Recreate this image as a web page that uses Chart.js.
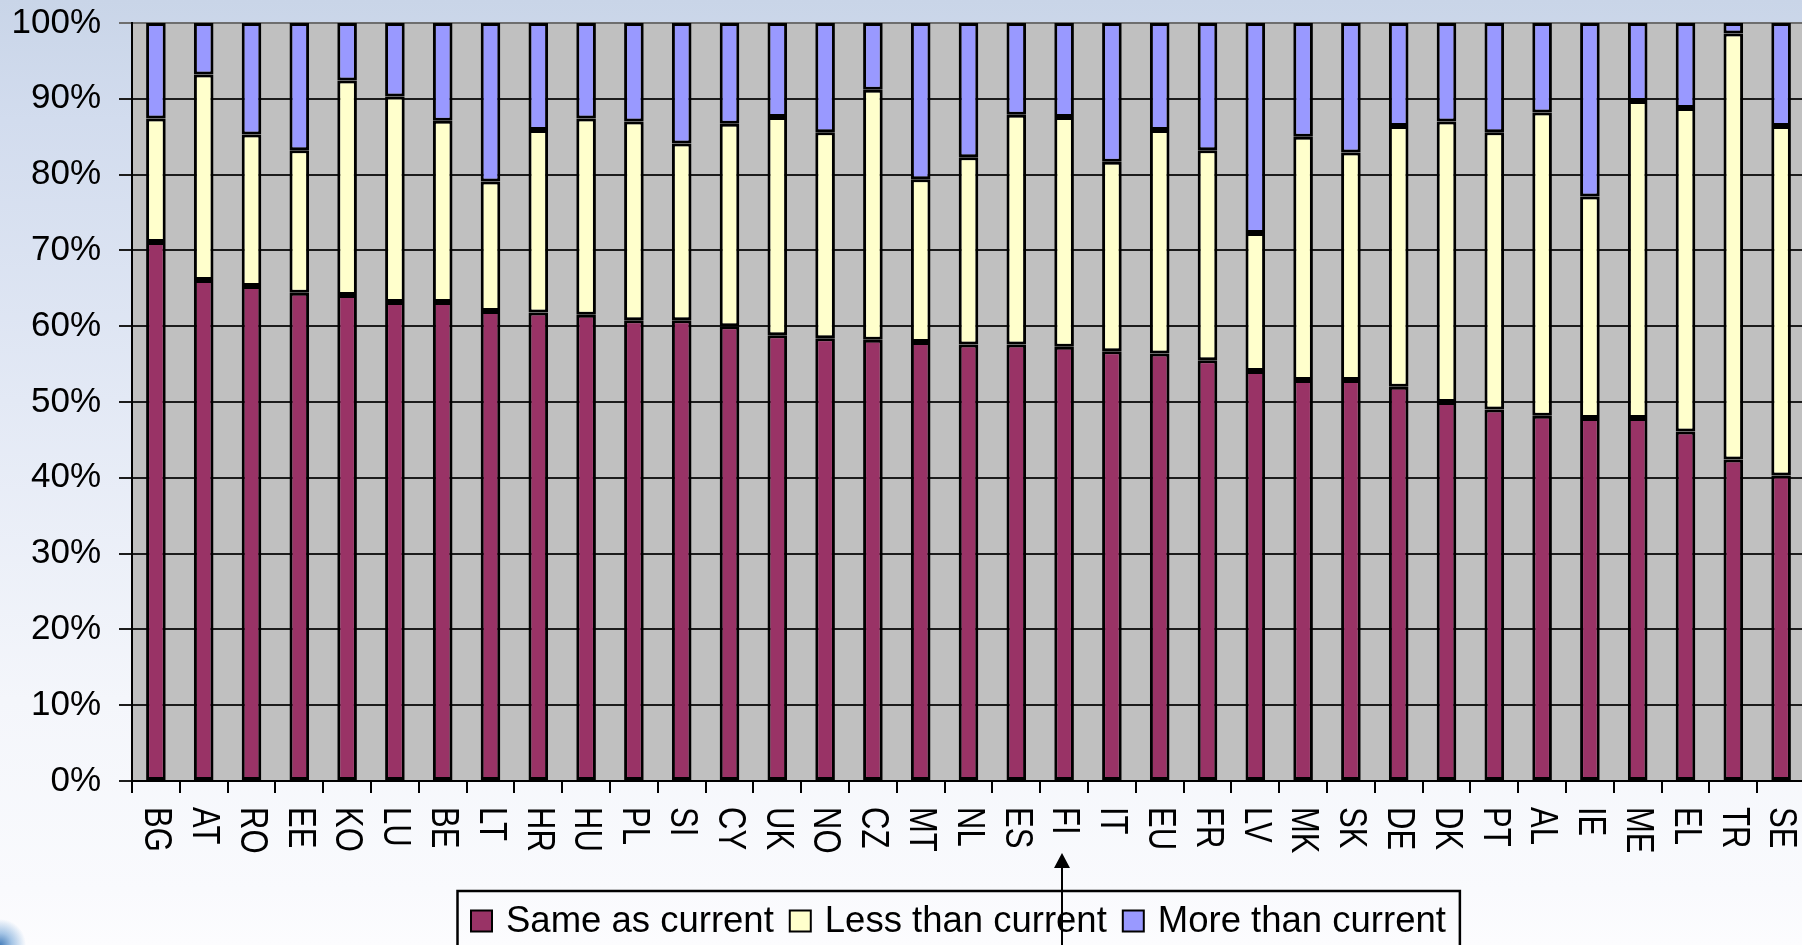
<!DOCTYPE html>
<html>
<head>
<meta charset="utf-8">
<script src="https://cdn.jsdelivr.net/npm/chart.js@4/dist/chart.umd.min.js"></script>
<style>
  html, body {
    margin: 0;
    padding: 0;
    width: 1802px;
    height: 945px;
    overflow: hidden;
    background:
      radial-gradient(circle at 0 945px, rgba(40,105,175,0.85) 0px, rgba(60,130,200,0.45) 12px, rgba(255,255,255,0) 26px),
      linear-gradient(180deg, #c9d5e8 0px, #d2dcee 120px, #e3e9f5 400px, #f4f6fb 700px, #f9fafd 890px, #fcfcfe 945px);
  }
  #wrap { position: absolute; left: 0; top: 0; width: 1830px; height: 945px; }
</style>
</head>
<body>
<div id="wrap"><canvas id="chart"></canvas></div>
<script>
// Countries, ordered by the share answering "Same as current"
const categories = ['BG','AT','RO','EE','KO','LU','BE','LT','HR','HU','PL','SI','CY','UK','NO','CZ','MT','NL','ES','FI','IT','EU','FR','LV','MK','SK','DE','DK','PT','AL','IE','ME','EL','TR','SE'];

// Shares in percent
const sameAsCurrent = [71.1,66.1,65.3,64.4,64.1,63.2,63.2,62.0,61.8,61.5,60.8,60.8,60.0,58.8,58.4,58.2,57.9,57.6,57.6,57.3,56.7,56.4,55.5,54.1,52.9,52.9,52.0,50.0,49.0,48.2,47.9,47.9,46.1,42.4,40.3];
const lessThanCurrent = [16.3,27.1,20.0,18.8,28.3,27.1,23.9,17.1,24.1,25.9,26.2,23.3,26.7,28.8,27.2,33.0,21.5,24.7,30.3,30.3,25.0,29.5,27.7,18.2,32.1,30.0,34.4,37.0,36.6,40.0,29.2,41.8,42.7,56.2,46.1];
const moreThanCurrent = [12.6,6.8,14.7,16.8,7.6,9.7,12.9,20.9,14.1,12.6,13.0,15.9,13.3,12.4,14.4,8.8,20.6,17.7,12.1,12.4,18.3,14.1,16.8,27.7,15.0,17.1,13.6,13.0,14.4,11.8,22.9,10.3,11.2,1.4,13.6];

const seriesNames = ['Same as current', 'Less than current', 'More than current'];
const yTicks = [0,10,20,30,40,50,60,70,80,90,100];
const highlighted = 'FI';

const FONT = '"Liberation Sans", Arial, Helvetica, sans-serif';
const colors = ['#993366', '#ffffcc', '#9999ff'];

// Grey plotting area behind the grid
const plotBackground = {
  id: 'plotBackground',
  beforeDraw(chart) {
    const { ctx, chartArea: a } = chart;
    ctx.save();
    ctx.fillStyle = '#c0c0c0';
    ctx.fillRect(a.left, a.top, a.right - a.left, a.bottom - a.top);
    ctx.restore();
  }
};

// Category labels written top-to-bottom under each bar
const verticalLabels = {
  id: 'verticalLabels',
  afterDraw(chart) {
    const { ctx, chartArea: a } = chart;
    const xs = chart.scales.x;
    ctx.save();
    ctx.font = '31px ' + FONT;
    ctx.fillStyle = '#000';
    ctx.textAlign = 'left';
    ctx.textBaseline = 'middle';
    chart.data.labels.forEach((lab, i) => {
      const x = xs.getPixelForValue(i);
      ctx.save();
      ctx.translate(x, a.bottom + 26);
      ctx.scale(1.25, 1);
      ctx.rotate(Math.PI / 2);
      ctx.fillText(lab, 0, 0);
      ctx.restore();
    });
    ctx.restore();
  }
};

// Boxed legend along the bottom edge, plus the pointer to the highlighted country
const boxedLegend = {
  id: 'boxedLegend',
  afterDraw(chart) {
    const { ctx, chartArea: a } = chart;
    const fontSize = 36.5;
    const sw = 21;
    const boxLeft = 457.5, boxTop = 891;
    const textGap = 14, itemGap = 16;
    ctx.save();
    ctx.font = fontSize + 'px ' + FONT;
    ctx.textBaseline = 'middle';
    ctx.textAlign = 'left';
    let x = boxLeft + 13.5;
    const cy = boxTop + 30;
    chart.data.datasets.forEach((ds) => {
      ctx.fillStyle = ds.backgroundColor;
      ctx.fillRect(x, cy - sw / 2, sw, sw);
      ctx.lineWidth = 2;
      ctx.strokeStyle = '#000';
      ctx.strokeRect(x, cy - sw / 2, sw, sw);
      x += sw + textGap;
      ctx.fillStyle = '#000';
      ctx.fillText(ds.label, x, cy + 1);
      x += ctx.measureText(ds.label).width + itemGap;
    });
    const boxRight = x - itemGap + textGap;
    ctx.lineWidth = 2.5;
    ctx.strokeStyle = '#000';
    ctx.strokeRect(boxLeft, boxTop, boxRight - boxLeft, 80);

    // Arrow pointing up at the highlighted label
    const idx = chart.data.labels.indexOf(highlighted);
    if (idx >= 0) {
      const ax = Math.round(chart.scales.x.getPixelForValue(idx)) - 2;
      const tip = a.bottom + 72;
      ctx.fillStyle = '#000';
      ctx.lineWidth = 2;
      ctx.beginPath();
      ctx.moveTo(ax, tip + 12);
      ctx.lineTo(ax, chart.height + 5);
      ctx.stroke();
      ctx.beginPath();
      ctx.moveTo(ax, tip);
      ctx.lineTo(ax - 8, tip + 15);
      ctx.lineTo(ax + 8, tip + 15);
      ctx.closePath();
      ctx.fill();
    }
    ctx.restore();
  }
};

const datasets = [sameAsCurrent, lessThanCurrent, moreThanCurrent].map((vals, k) => ({
  label: seriesNames[k],
  data: vals,
  backgroundColor: colors[k],
  borderColor: '#000',
  borderWidth: 3,
  borderSkipped: false,
  categoryPercentage: 1.0,
  barPercentage: 0.41
}));

new Chart(document.getElementById('chart'), {
  type: 'bar',
  data: { labels: categories, datasets },
  plugins: [plotBackground, verticalLabels, boxedLegend],
  options: {
    responsive: true,
    maintainAspectRatio: false,
    animation: false,
    devicePixelRatio: 1,
    layout: { padding: { left: 0, top: 23, right: 25, bottom: 0 } },
    plugins: {
      legend: { display: false },
      tooltip: { enabled: false }
    },
    scales: {
      x: {
        stacked: true,
        offset: true,
        afterFit(scale) {
          scale.height = 164;
          scale.paddingLeft = 0;
          scale.paddingRight = 0;
        },
        grid: {
          display: true,
          offset: true,
          drawOnChartArea: false,
          drawTicks: true,
          tickLength: 12,
          color: '#000',
          lineWidth: 2
        },
        border: { display: true, color: '#000', width: 2 },
        ticks: { display: false }
      },
      y: {
        stacked: true,
        min: 0,
        max: 100,
        afterFit(scale) {
          scale.width = 132;
          scale.paddingTop = 0;
          scale.paddingBottom = 0;
        },
        afterBuildTicks(scale) { scale.ticks = yTicks.map(v => ({ value: v })); },
        grid: {
          color: (c) => (c.tick && c.tick.value === 100 ? '#6e6e6e' : '#1c1c1c'),
          lineWidth: 2,
          drawTicks: true,
          tickLength: 13
        },
        border: { display: true, color: '#000', width: 2 },
        ticks: {
          color: '#000',
          padding: 18,
          font: { family: FONT, size: 35 },
          callback: (v) => v + '%'
        }
      }
    }
  }
});
</script>
</body>
</html>
